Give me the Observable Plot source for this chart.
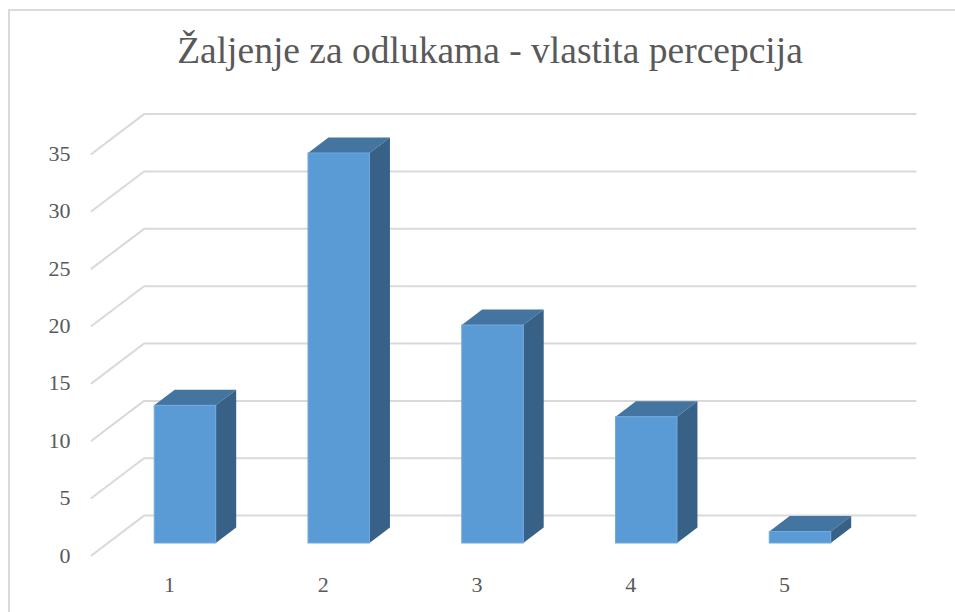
<!DOCTYPE html>
<html>
<head>
<meta charset="utf-8">
<script src="https://cdn.jsdelivr.net/npm/d3@7"></script>
<script src="https://cdn.jsdelivr.net/npm/@observablehq/plot@0.6"></script>
<style>
html,body{margin:0;padding:0;background:#fff;width:955px;height:612px;overflow:hidden}
#frame{position:absolute;left:8px;top:9px;width:960px;height:620px;border:2px solid #d9d9d9;box-sizing:border-box}
#title{position:absolute;left:0;top:29px;width:980px;text-align:center;font:37.5px "Liberation Serif",serif;color:#595959;white-space:nowrap}
#chart{position:absolute;left:0;top:80px}
#chart svg{background:transparent}
</style>
</head>
<body>
<div id="frame"></div>
<div id="title">Žaljenje za odlukama - vlastita percepcija</div>
<div id="chart"></div>
<script>
const categories = [1, 2, 3, 4, 5];
const values = [12, 34, 19, 11, 1];
const yTicks = [0, 5, 10, 15, 20, 25, 30, 35];

// Oblique projection, expressed in data units of the x and y scales
const barHalf = 0.2, depthX = 0.133, depthY = 1.35;
const wallFront = -0.77, wallBack = 1.8, plotLeft = 0.491, plotRight = 5.748;
const top0 = 80;

const bars = categories.map((c, i) => ({c, v: values[i]}));
const grid = yTicks.flatMap(t => [
  {t, x: plotLeft + wallFront * depthX, y: t + wallFront * depthY},
  {t, x: plotLeft + wallBack * depthX, y: t + wallBack * depthY},
  {t, x: plotRight, y: t + wallBack * depthY}
]);
const topFaces = bars.flatMap(b => [
  {c: b.c, y: b.v, x1: b.c - barHalf, x2: b.c + barHalf},
  {c: b.c, y: b.v + depthY, x1: b.c - barHalf + depthX, x2: b.c + barHalf + depthX}
]);
const sideFaces = bars.flatMap(b => [
  {c: b.c, x: b.c + barHalf, y1: 0, y2: b.v},
  {c: b.c, x: b.c + barHalf + depthX, y1: depthY, y2: b.v + depthY}
]);

const tickFont = {fontSize: 22, fontFamily: "Liberation Serif, serif", fill: "#595959"};

const plot = Plot.plot({
  width: 955,
  height: 532,
  margin: 0,
  style: {background: "transparent", overflow: "visible"},
  x: {domain: [1, 5], range: [185, 800]},
  y: {domain: [0, 35], range: [543 - top0, 543 - top0 - 401.5]},
  marks: [
    Plot.line(grid, {x: "x", y: "y", z: "t", stroke: "#d9d9d9", strokeWidth: 2}),
    Plot.areaX(topFaces, {y: "y", x1: "x1", x2: "x2", z: "c", fill: "#4475a1", curve: "linear"}),
    Plot.areaY(sideFaces, {x: "x", y1: "y1", y2: "y2", z: "c", fill: "#376186", curve: "linear"}),
    Plot.rect(bars, {
      x1: d => d.c - barHalf, x2: d => d.c + barHalf, y1: 0, y2: "v",
      fill: "#5b9bd5", stroke: "#6fa9de", strokeWidth: 1
    }),
    Plot.axisY(yTicks, {
      anchor: "left", tickSize: 0, label: null, tickFormat: "d",
      dx: 79, dy: 12, textAnchor: "end", ...tickFont
    }),
    Plot.axisX(categories, {
      anchor: "bottom", tickSize: 0, label: null, tickFormat: "d",
      dx: -16, dy: -45, ...tickFont
    })
  ]
});
document.getElementById("chart").append(plot);
</script>
</body>
</html>
